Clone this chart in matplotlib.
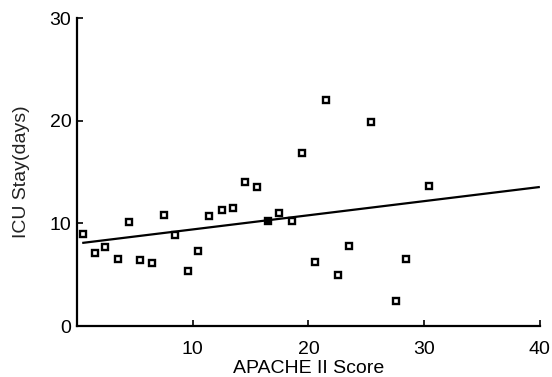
import matplotlib
matplotlib.use("Agg")
import matplotlib.pyplot as plt

# Data
apache = [0.49, 1.58, 2.42, 3.57, 4.49, 5.47, 6.48, 7.55, 8.47, 9.57,
          10.48, 11.43, 12.56, 13.46, 14.55, 15.58, 17.48, 18.56, 19.42,
          20.57, 21.50, 22.56, 23.53, 25.41, 27.55, 28.46, 30.45]
icu_stay = [8.96, 7.08, 7.66, 6.49, 10.16, 6.40, 6.11, 10.78, 8.86, 5.33,
            7.30, 10.74, 11.30, 11.52, 13.99, 13.51, 11.03, 10.25, 16.82,
            6.23, 21.98, 4.94, 7.82, 19.86, 2.43, 6.49, 13.60]
filled_x = [16.48]
filled_y = [10.25]

# Regression line end points
line_x = [0.45, 40.0]
line_y = [8.10, 13.55]

xticks = [10, 20, 30, 40]
yticks = [0, 10, 20, 30]

plt.rcParams['font.family'] = ['Liberation Sans', 'DejaVu Sans']

fig = plt.figure(figsize=(5.52, 3.77), dpi=100)
ax = fig.add_axes([0.1395, 0.135, 0.978 - 0.1395, 0.952 - 0.135])

ax.plot(line_x, line_y, color='black', lw=1.6, solid_capstyle='butt', zorder=2)
ax.plot(apache, icu_stay, linestyle='none', marker='s', ms=4.8,
        mfc='white', mec='black', mew=1.7, zorder=3)
ax.plot(filled_x, filled_y, linestyle='none', marker='s', ms=4.8,
        mfc='black', mec='black', mew=1.7, zorder=3)

ax.set_xlim(0, 40)
ax.set_ylim(0, 30)
ax.set_xticks(xticks)
ax.set_yticks(yticks)
ax.tick_params(direction='in', length=4, width=1.2, labelsize=14,
               colors='black')
ax.tick_params(axis='x', pad=11)
ax.tick_params(axis='y', pad=4)
for s in ['top', 'right']:
    ax.spines[s].set_visible(False)
for s in ['left', 'bottom']:
    ax.spines[s].set_linewidth(1.6)

ax.set_xlabel('APACHE II Score', fontsize=14, labelpad=1)
ax.set_ylabel('ICU Stay(days)', fontsize=14, labelpad=14, color='#222222')

fig.savefig('out.png', dpi=100)
